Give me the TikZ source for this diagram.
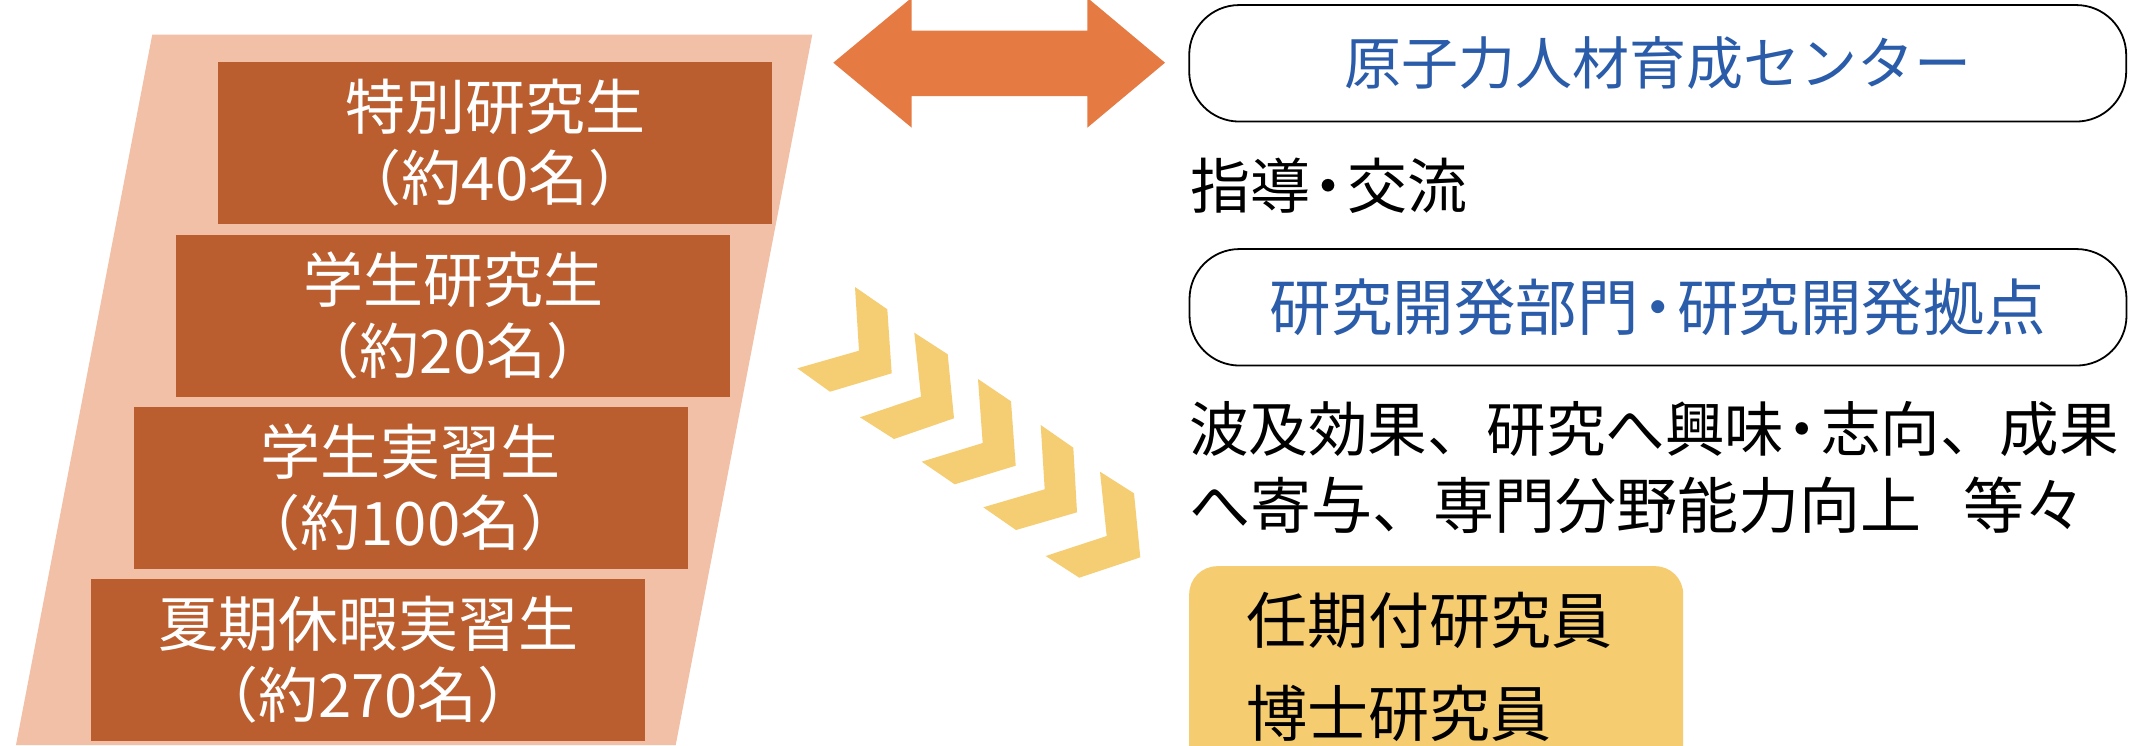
\documentclass[tikz,border=0pt]{standalone}
\usepackage{fontspec}
\setmainfont{Noto Sans CJK JP}
\definecolor{peach}{HTML}{F2C0A6}
\definecolor{rust}{HTML}{BA5D2F}
\definecolor{arroworange}{HTML}{E57B43}
\definecolor{chev}{HTML}{F5CD72}
\definecolor{navy}{HTML}{2A5CAA}
\definecolor{goldbox}{HTML}{F5CC70}
\newcommand\nakadot{\makebox[0.62em][c]{・}}
\begin{document}
\begin{tikzpicture}[x=1pt,y=-1pt,
  stair/.style={fill=rust, text=white, inner sep=0pt, minimum width=554pt,
    minimum height=162pt, align=center, font=\fontsize{60}{71}\selectfont},
  pill/.style={draw=black, line width=1.8pt, rounded corners=50pt,
    minimum width=937pt, minimum height=116.5pt, inner sep=0pt, text=navy},
  plain/.style={inner sep=0pt, text=black, anchor=base west},
  chevron/.style={fill=chev}
]
\useasboundingbox (0,0) rectangle (2134,745);
\clip (0,0) rectangle (2134,745);
\fill[white] (0,0) rectangle (2134,745);
% background parallelogram
\fill[peach] (152.3,34.5) -- (812.3,34.5) -- (675.7,745) -- (16,745) -- cycle;
% stairs
\node[stair] (s1) at (495,142.5) {特別研究生\\（約40名）};
\node[stair] (s2) at (453,316) {学生研究生\\（約20名）};
\node[stair] (s3) at (410.5,488) {学生実習生\\（約100名）};
\node[stair] (s4) at (368,660) {夏期休暇実習生\\（約270名）};
% double arrow
\fill[arroworange] (833.3,62.7) -- (911.7,-2.3) -- (911.7,30.7) -- (1087.3,30.7)
  -- (1087.3,-2.3) -- (1165,62.7) -- (1087.3,127.7) -- (1087.3,96)
  -- (911.7,96) -- (911.7,127.7) -- cycle;
% chevrons
\fill[chevron] (855,287) -- (887.3,309.3) -- (891.7,373.3) -- (830,391.7) -- (797.3,368.3) -- (859,350.7) -- cycle;
\fill[chevron] (914.3,332.7) -- (947.7,354.3) -- (954,418.3) -- (894,439) -- (860,417.3) -- (921,396.7) -- cycle;
\fill[chevron] (978,379) -- (1011,401.3) -- (1015.7,465.7) -- (954.7,484.3) -- (921.7,461.7) -- (982.7,443) -- cycle;
\fill[chevron] (1040.7,425) -- (1073.3,447.7) -- (1077,512.3) -- (1016,530) -- (983.3,507.3) -- (1044.7,489.3) -- cycle;
\fill[chevron] (1100,471.7) -- (1134,493.3) -- (1140.3,557.3) -- (1079.3,577.7) -- (1045.7,556) -- (1106.7,536) -- cycle;
% right side
\node[pill, font=\fontsize{57}{60}\selectfont] (center) at (1657.7,63.3) {原子力人材育成センター};
\node[plain, font=\fontsize{60}{64}\selectfont] (guide) at (1190,208) {指導\nakadot 交流};
\node[pill, font=\fontsize{61.5}{64}\selectfont] (rnd) at (1658,307.3) {研究開発部門\nakadot 研究開発拠点};
\node[plain, font=\fontsize{59.5}{64}\selectfont] (eff1) at (1189,451.6) {波及効果、研究へ興味\nakadot 志向、成果};
\node[plain, font=\fontsize{61}{64}\selectfont] (eff2) at (1189,528.5) {へ寄与、専門分野能力向上\hspace{0.69em}等々};
\node[fill=goldbox, rounded corners=28pt, minimum width=494pt, minimum height=260pt,
  anchor=north west, inner sep=0pt] (posts) at (1189,566) {};
\node[plain, font=\fontsize{61}{64}\selectfont] (post1) at (1246,643) {任期付研究員};
\node[plain, font=\fontsize{61}{64}\selectfont] (post2) at (1246,736) {博士研究員};
\end{tikzpicture}
\end{document}
